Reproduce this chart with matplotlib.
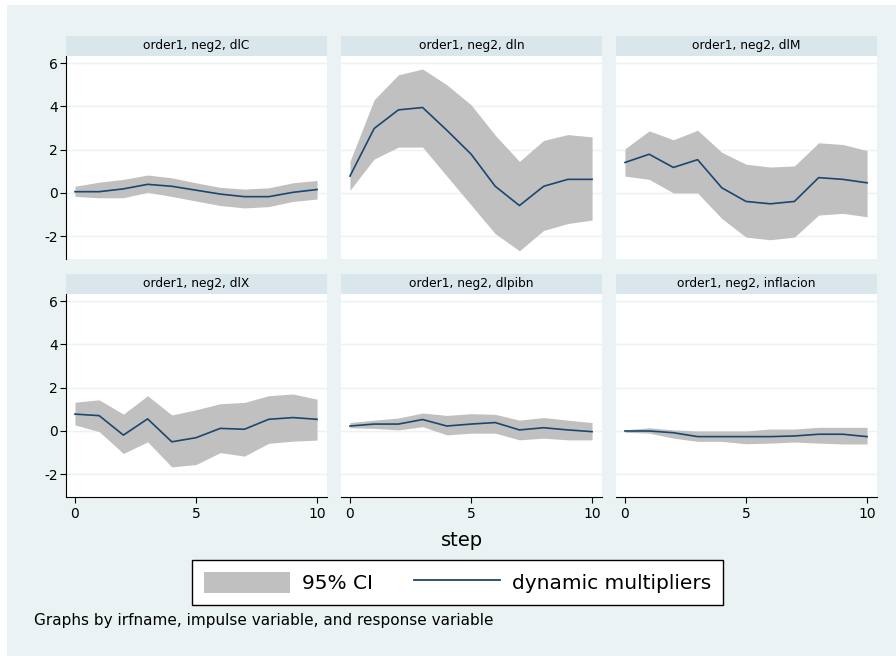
import matplotlib
matplotlib.use('Agg')
import matplotlib.pyplot as plt
from matplotlib.patches import Patch, Rectangle
from matplotlib.lines import Line2D

# pasos del horizonte
steps = list(range(11))

titles = ['order1, neg2, dlC', 'order1, neg2, dln', 'order1, neg2, dlM',
          'order1, neg2, dlX', 'order1, neg2, dlpibn', 'order1, neg2, inflacion']

# multiplicadores dinamicos y bandas del 95%
irf_dlC = [0.06, 0.06, 0.19, 0.40, 0.31, 0.13, -0.05, -0.17, -0.17, 0.03, 0.16]
lo_dlC = [-0.16, -0.22, -0.22, 0.03, -0.16, -0.37, -0.58, -0.69, -0.63, -0.39, -0.28]
hi_dlC = [0.31, 0.50, 0.63, 0.83, 0.70, 0.47, 0.26, 0.18, 0.24, 0.47, 0.58]

irf_dln = [0.78, 2.98, 3.84, 3.95, 2.90, 1.80, 0.31, -0.58, 0.31, 0.63, 0.63]
lo_dln = [0.13, 1.57, 2.12, 2.12, 0.78, -0.55, -1.88, -2.67, -1.73, -1.41, -1.25]
hi_dln = [1.46, 4.31, 5.46, 5.73, 5.00, 4.08, 2.67, 1.46, 2.43, 2.70, 2.59]

irf_dlM = [1.41, 1.79, 1.18, 1.54, 0.24, -0.39, -0.50, -0.39, 0.71, 0.63, 0.47]
lo_dlM = [0.78, 0.63, 0.00, 0.00, -1.18, -2.04, -2.16, -2.04, -1.02, -0.94, -1.10]
hi_dlM = [2.04, 2.87, 2.46, 2.90, 1.88, 1.33, 1.20, 1.25, 2.32, 2.24, 1.96]

irf_dlX = [0.78, 0.71, -0.19, 0.56, -0.50, -0.31, 0.12, 0.08, 0.54, 0.62, 0.54]
lo_dlX = [0.28, -0.03, -1.04, -0.50, -1.66, -1.55, -1.00, -1.16, -0.57, -0.47, -0.42]
hi_dlX = [1.33, 1.44, 0.78, 1.63, 0.74, 0.98, 1.26, 1.32, 1.63, 1.71, 1.47]

irf_dlpibn = [0.23, 0.32, 0.32, 0.53, 0.23, 0.32, 0.39, 0.05, 0.15, 0.05, -0.03]
lo_dlpibn = [0.15, 0.12, 0.05, 0.20, -0.18, -0.10, -0.10, -0.41, -0.33, -0.41, -0.41]
hi_dlpibn = [0.39, 0.50, 0.60, 0.83, 0.72, 0.80, 0.77, 0.50, 0.62, 0.50, 0.39]

irf_infl = [0.00, 0.00, -0.08, -0.26, -0.26, -0.26, -0.26, -0.23, -0.15, -0.15, -0.26]
lo_infl = [-0.06, -0.10, -0.33, -0.48, -0.48, -0.59, -0.56, -0.51, -0.56, -0.60, -0.60]
hi_infl = [0.05, 0.15, 0.05, 0.00, 0.00, 0.00, 0.09, 0.09, 0.17, 0.17, 0.17]

irfs = [irf_dlC, irf_dln, irf_dlM, irf_dlX, irf_dlpibn, irf_infl]
lows = [lo_dlC, lo_dln, lo_dlM, lo_dlX, lo_dlpibn, lo_infl]
highs = [hi_dlC, hi_dln, hi_dlM, hi_dlX, hi_dlpibn, hi_infl]

yticks = [-2, 0, 2, 4, 6]
xticks = [0, 5, 10]

BG = '#EAF2F3'
STRIP = '#D9E6EB'
CI = '#C0C0C0'
NAVY = '#1A476F'

plt.rcParams['font.family'] = ['DejaVu Sans']
plt.rcParams['axes.unicode_minus'] = False

W, H = 896, 656
fig = plt.figure(figsize=(W / 100, H / 100), dpi=100, facecolor='white')

# fondo de la region del grafico (deja un borde blanco arriba e izquierda)
fig.patches.append(Rectangle((7 / W, 0), 1, 1 - 5 / H, transform=fig.transFigure,
                             facecolor=BG, edgecolor='none', zorder=-10))

col_x = [66, 341, 616]
row_top = [56, 294]
pw, ph, sh = 261, 203, 20

for i in range(6):
    r, c = divmod(i, 3)
    left = col_x[c] / W
    bottom = 1 - (row_top[r] + ph) / H
    ax = fig.add_axes([left, bottom, pw / W, ph / H], facecolor='white')
    strip = fig.add_axes([left, 1 - row_top[r] / H, pw / W, sh / H], facecolor=STRIP)
    strip.set_xticks([])
    strip.set_yticks([])
    for s in strip.spines.values():
        s.set_visible(False)
    strip.text(0.5, 0.5, titles[i], ha='center', va='center', fontsize=8.8,
               transform=strip.transAxes)

    ax.fill_between(steps, lows[i], highs[i], color=CI, linewidth=0, zorder=2)
    ax.plot(steps, irfs[i], color=NAVY, linewidth=1.2, zorder=3)

    ax.set_xlim(-0.37, 10.41)
    ax.set_ylim(-3.05, 6.33)
    ax.set_yticks(yticks)
    ax.set_xticks(xticks)
    ax.grid(axis='y', color=BG, linewidth=1.0, zorder=1)
    ax.set_axisbelow(True)

    for s in ['top', 'right']:
        ax.spines[s].set_visible(False)
    ax.spines['left'].set_visible(c == 0)
    ax.spines['bottom'].set_visible(r == 1)
    ax.tick_params(axis='y', left=(c == 0), labelleft=(c == 0), length=4,
                   width=0.8, labelsize=10, pad=2)
    ax.tick_params(axis='x', bottom=(r == 1), labelbottom=(r == 1), length=4,
                   width=0.8, labelsize=10, pad=3)

fig.text(462 / W, 1 - 540 / H, 'step', ha='center', va='center', fontsize=14)

handles = [Patch(facecolor=CI, edgecolor='none', label='95% CI'),
           Line2D([0], [0], color=NAVY, linewidth=1.3, label='dynamic multipliers')]
leg = fig.legend(handles=handles, loc='center', bbox_to_anchor=(457.5 / W, 1 - 582.5 / H),
                 ncol=2, fontsize=14.5, frameon=True, fancybox=False, edgecolor='black',
                 framealpha=1, handlelength=4.3, handleheight=1.3, handletextpad=0.6,
                 columnspacing=2.0, borderpad=0.55, borderaxespad=0)
leg.get_frame().set_linewidth(1.0)

fig.text(34 / W, 1 - 620 / H, 'Graphs by irfname, impulse variable, and response variable',
         ha='left', va='center', fontsize=11)

fig.savefig('out.png', dpi=100, facecolor=fig.get_facecolor())
